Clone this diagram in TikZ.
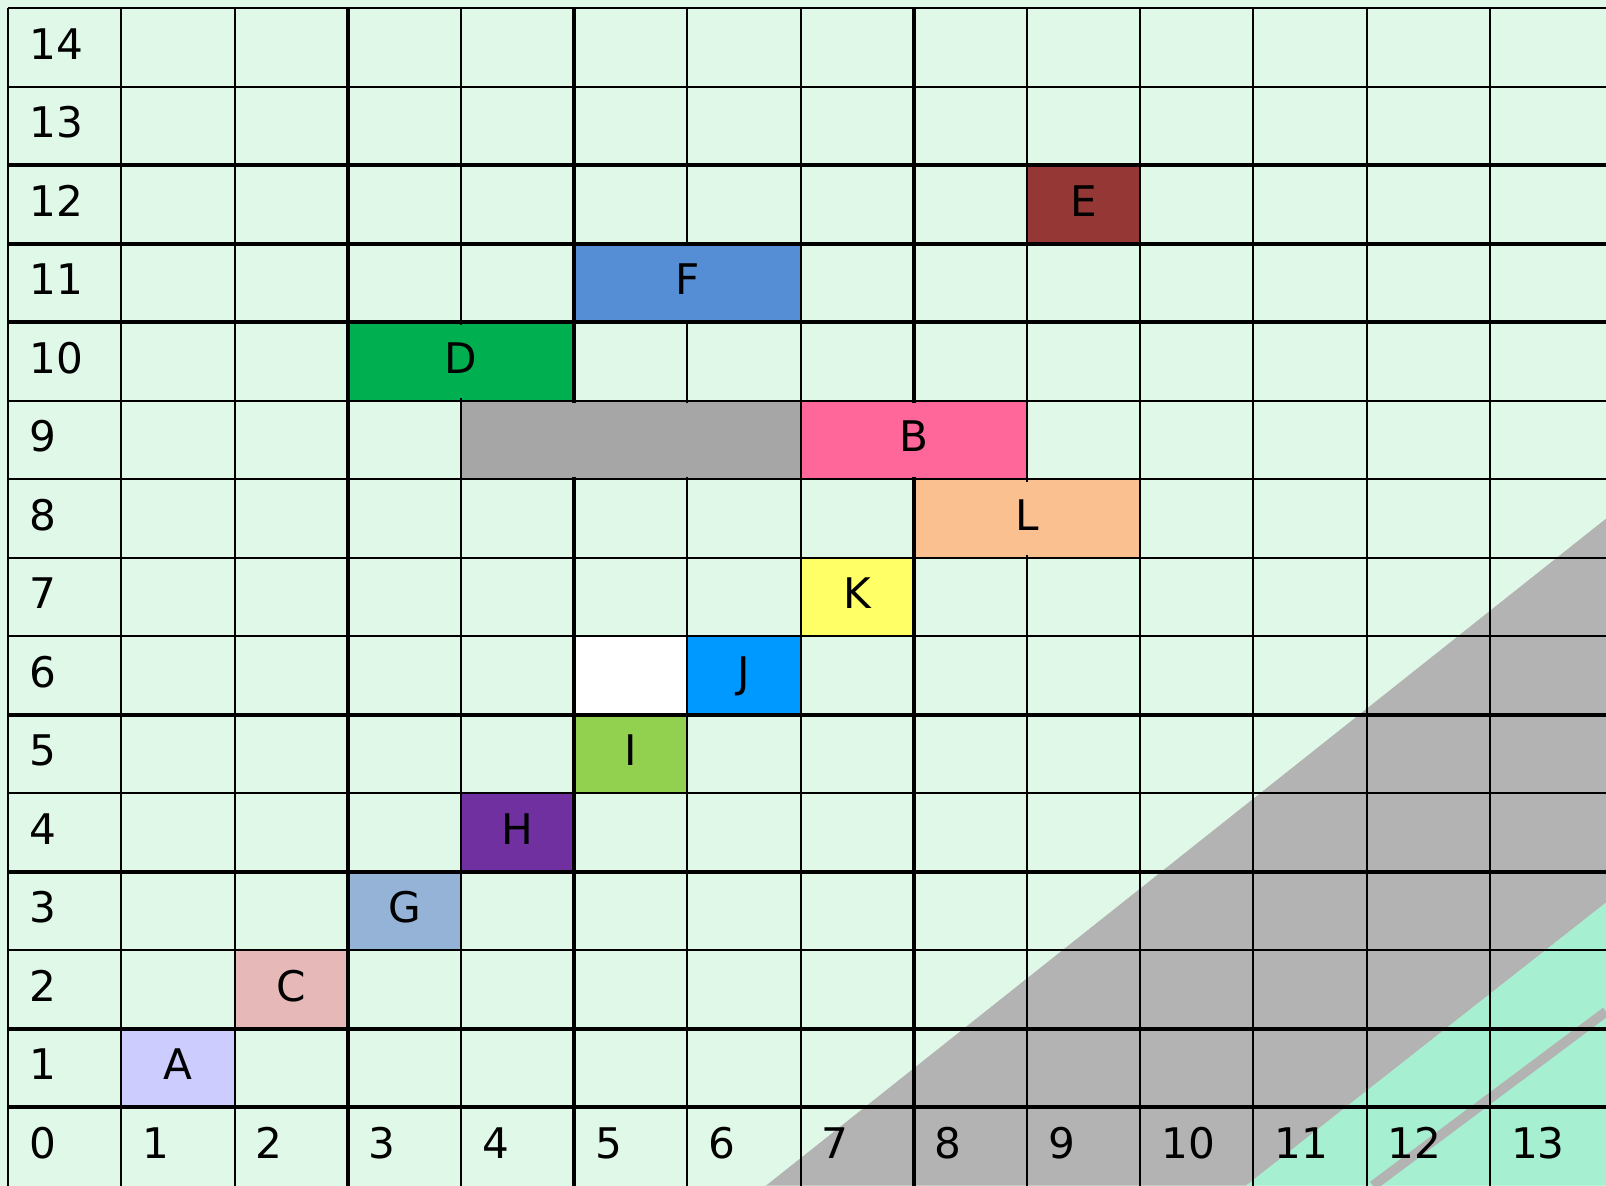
\documentclass[tikz,border=0pt]{standalone}
\usepackage{fontspec}
\setmainfont{DejaVu Sans}
\usetikzlibrary{calc}
\definecolor{mint}{HTML}{E0F8E8}
\definecolor{bandgray}{HTML}{B3B3B3}
\definecolor{bandgreen}{HTML}{A6EFD0}
\definecolor{colA}{HTML}{CCCCFF}
\definecolor{colB}{HTML}{FF6699}
\definecolor{colC}{HTML}{E6B9B8}
\definecolor{colD}{HTML}{00B050}
\definecolor{colE}{HTML}{953735}
\definecolor{colF}{HTML}{558ED5}
\definecolor{colG}{HTML}{95B3D7}
\definecolor{colH}{HTML}{7030A0}
\definecolor{colI}{HTML}{92D050}
\definecolor{colJ}{HTML}{0099FF}
\definecolor{colK}{HTML}{FFFF66}
\definecolor{colL}{HTML}{FAC090}
\definecolor{colGap}{HTML}{A6A6A6}
\tikzset{
  gridthin/.style  = {line width=0.6pt, black},
  gridthick/.style = {line width=1.2pt, black},
  tag/.style       = {inner sep=0pt, font=\fontsize{12}{14}\selectfont}
}
% column / row / width / colour / name / text
\def\blocklist{1/1/1/colA/A/A, 2/2/1/colC/C/C, 3/3/1/colG/G/G, 4/4/1/colH/H/H,
  5/5/1/colI/I/I, 5/6/1/white/blank/{}, 6/6/1/colJ/J/J, 7/7/1/colK/K/K,
  8/8/2/colL/L/L, 4/9/3/colGap/gap/{}, 7/9/2/colB/B/B, 3/10/2/colD/D/D,
  5/11/2/colF/F/F, 9/12/1/colE/E/E}

\begin{document}
\begin{tikzpicture}[x=1.132cm, y=0.785cm]
\useasboundingbox (-0.072,0) rectangle (14.115,15.104);
\fill[mint] (-0.072,0) rectangle (14.115,15.104);

% Diagonal bands in the lower right corner
\fill[bandgray] (6.694,0) -- (14.115,8.497) -- (14.115,3.605) -- (10.935,0) -- cycle;
\fill[bandgreen] (10.935,0) -- (14.115,3.605) -- (14.115,0) -- cycle;
\draw[bandgray, line width=2.8pt] (12.057,0) -- (14.115,2.217);

% Blocks, under the grid
\foreach \c/\r/\w/\col/\nm/\txt in \blocklist {
    \fill[\col] (\c,\r) rectangle ++(\w,1);
}

% Grid
\foreach \y in {3,5,7,8,9,10,14,15}
    \draw[gridthin] (0,\y) -- (14.115,\y);
\foreach \y in {1,2,4,6,11,12,13}
    \draw[gridthick] (0,\y) -- (14.115,\y);
\foreach \x in {0,1,2,4,6,7,9,10,11,12,13.09}
    \draw[gridthin] (\x,0) -- (\x,15);
\foreach \x in {3,5,8}
    \draw[gridthick] (\x,0) -- (\x,15);

% Blocks again, hiding the inner lines, with their letters
\foreach \c/\r/\w/\col/\nm/\txt in \blocklist {
    \fill[\col] ($(\c,\r)+(0.7pt,0.7pt)$) rectangle ($(\c+\w,\r+1)-(0.7pt,0.7pt)$);
    \node[tag, anchor=base] (\nm) at (\c+\w/2,\r+0.35) {\txt};
}

% Axis numbers
\foreach \r in {1,...,14}
    \node[tag, anchor=base west] (row\r) at (0.18,\r+0.35) {\r};
\foreach \k in {0,...,12}
    \node[tag, anchor=base west] (col\k) at (\k+0.18,0.35) {\k};
\node[tag, anchor=base west] (col13) at (13.27,0.35) {13};
\end{tikzpicture}
\end{document}
